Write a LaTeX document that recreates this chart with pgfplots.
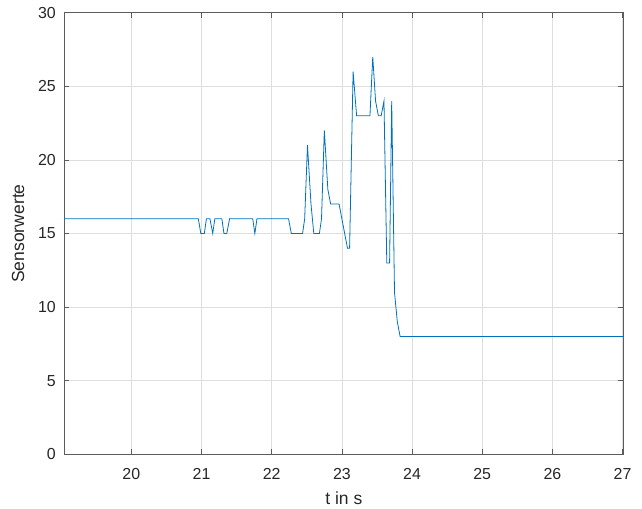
\documentclass[border=0pt]{standalone}
\usepackage{fontspec}
\setmainfont{Liberation Sans}
\usepackage{pgfplots}
\pgfplotsset{compat=1.18}
\definecolor{mlblue}{rgb}{0,0.447,0.741}
\definecolor{axgray}{rgb}{0.15,0.15,0.15}
\begin{document}
\begin{tikzpicture}
\useasboundingbox (-64.3bp,-54.7bp) rectangle (577.7bp,454.3bp);
\begin{axis}[
  at={(0,0)}, anchor=south west,
  scale only axis, width=559bp, height=441.6bp,
  xmin=19.045, xmax=27.01, ymin=0, ymax=30,
  xtick={20,21,...,27}, ytick={0,5,...,30},
  tick align=inside, major tick length=5bp,
  grid=major,
  major grid style={line width=0.5bp, draw=black!13},
  axis line style={line width=0.6bp, draw=axgray!75},
  tick style={line width=0.6bp, draw=axgray!75},
  every tick label/.append style={font=\fontsize{16}{19}\selectfont, text=axgray},
  /pgf/number format/assume math mode=true,
  xticklabel style={yshift=-11bp},
  yticklabel style={xshift=-5bp},
  xlabel={t in s}, ylabel={Sensorwerte},
  label style={font=\fontsize{17.6}{21}\selectfont, text=axgray},
  xlabel style={yshift=-5bp},
  ylabel style={yshift=7bp},
]
\addplot[mlblue, line width=0.8bp, mark=none] coordinates {
(19.00,16) (20.955,16) (20.99,15) (21.04,15) (21.07,16) (21.12,16) (21.16,15)
(21.19,16) (21.29,16) (21.32,15) (21.36,15) (21.40,16) (21.73,16) (21.76,15)
(21.79,16) (22.24,16) (22.28,15) (22.44,15) (22.47,16) (22.51,21) (22.56,17)
(22.60,15) (22.68,15) (22.71,16) (22.75,22) (22.80,18) (22.84,17) (22.96,17)
(23.02,15.5) (23.08,14) (23.11,14) (23.16,26) (23.21,23) (23.40,23) (23.44,27)
(23.48,24) (23.52,23) (23.56,23) (23.60,24) (23.64,13) (23.68,13) (23.71,24)
(23.75,11) (23.79,9) (23.83,8) (27.10,8)
};
\end{axis}
\end{tikzpicture}
\end{document}
